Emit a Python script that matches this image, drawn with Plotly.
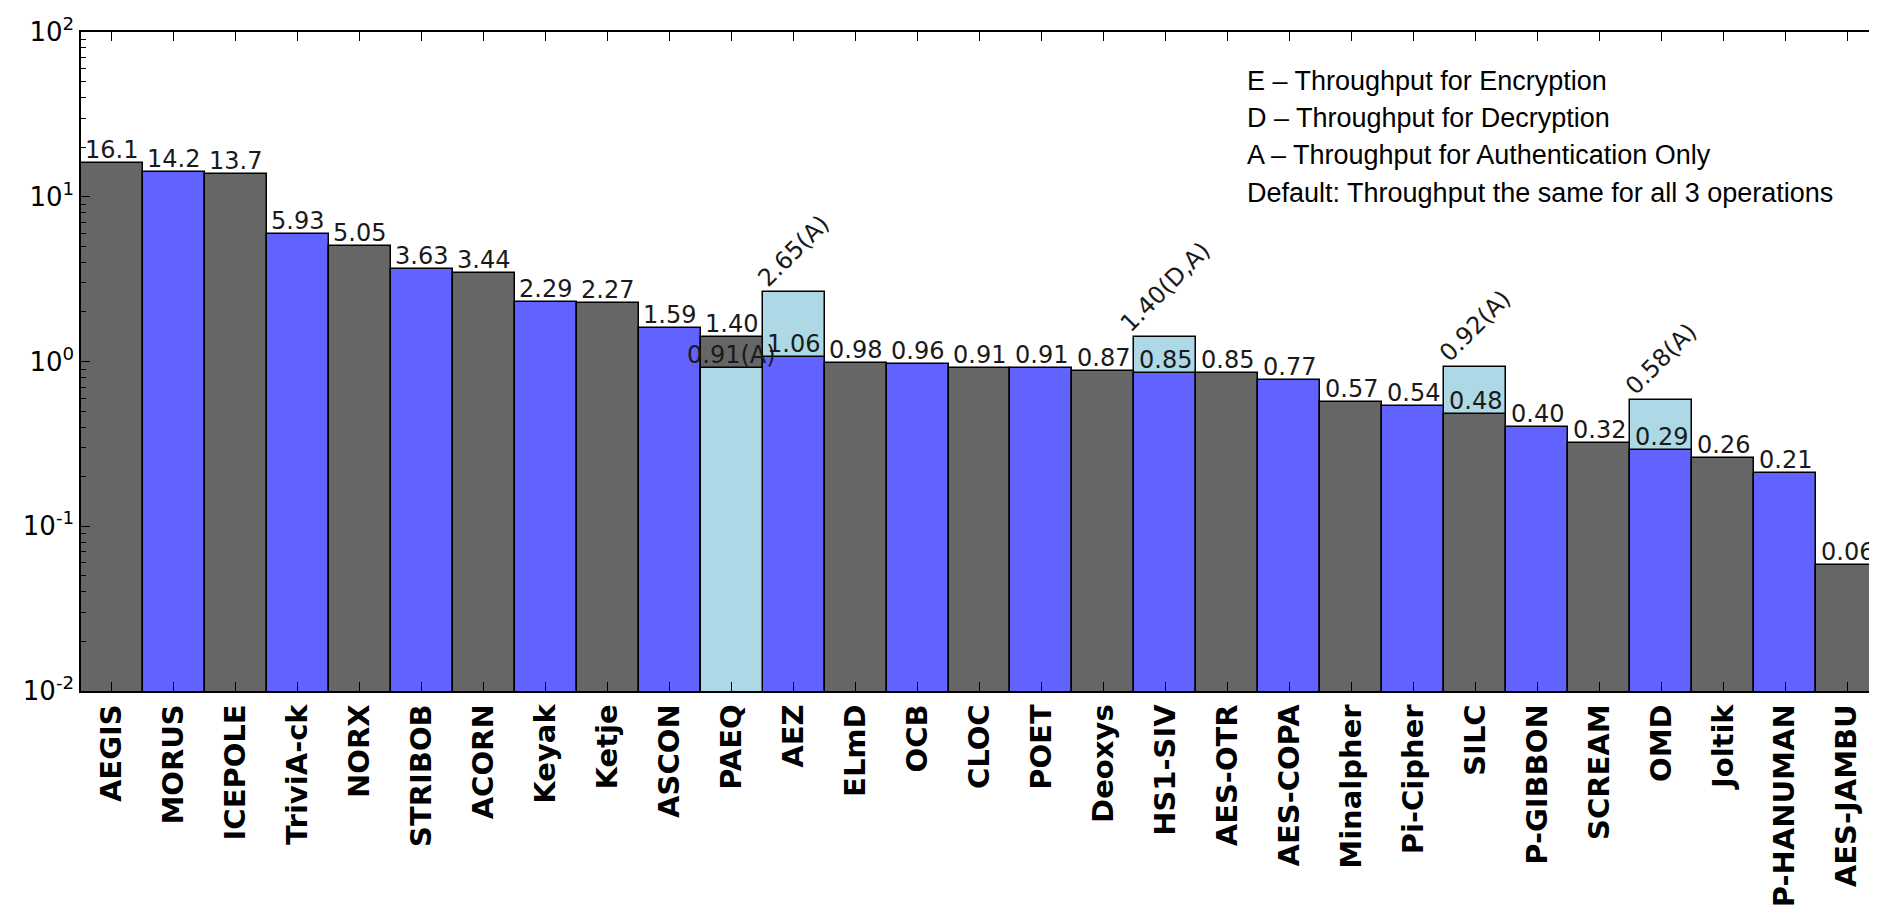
import math
import plotly.graph_objects as go

names = ["AEGIS", "MORUS", "ICEPOLE", "TriviA-ck", "NORX", "STRIBOB", "ACORN", "Keyak",
         "Ketje", "ASCON", "PAEQ", "AEZ", "ELmD", "OCB", "CLOC", "POET", "Deoxys", "HS1-SIV",
         "AES-OTR", "AES-COPA", "Minalpher", "Pi-Cipher", "SILC", "P-GIBBON", "SCREAM", "OMD",
         "Joltik", "P-HANUMAN", "AES-JAMBU"]
main_vals = [16.1, 14.2, 13.7, 5.93, 5.05, 3.63, 3.44, 2.29, 2.27, 1.59, 1.40, 1.06, 0.98,
             0.96, 0.91, 0.91, 0.87, 0.85, 0.85, 0.77, 0.57, 0.54, 0.48, 0.40, 0.32, 0.29,
             0.26, 0.21, 0.058]
main_labels = ["16.1", "14.2", "13.7", "5.93", "5.05", "3.63", "3.44", "2.29", "2.27", "1.59",
               "1.40", "1.06", "0.98", "0.96", "0.91", "0.91", "0.87", "0.85", "0.85", "0.77",
               "0.57", "0.54", "0.48", "0.40", "0.32", "0.29", "0.26", "0.21", "0.06"]

alt_names = ["PAEQ", "AEZ", "HS1-SIV", "SILC", "OMD"]
alt_vals = [0.91, 2.65, 1.40, 0.92, 0.58]
alt_labels = ["0.91(A)", "2.65(A)", "1.40(D,A)", "0.92(A)", "0.58(A)"]

legend_lines = ["E \u2013 Throughput for Encryption",
                "D \u2013 Throughput for Decryption",
                "A \u2013 Throughput for Authentication Only",
                "Default: Throughput the same for all 3 operations"]

GRAY = "#666666"
BLUE = "#6262ff"
LIGHT = "#add8e6"

main_map = dict(zip(names, main_vals))
colors = [GRAY if i % 2 == 0 else BLUE for i in range(len(names))]

back_x = [n for n, v in zip(alt_names, alt_vals) if v > main_map[n]]
back_y = [v for n, v in zip(alt_names, alt_vals) if v > main_map[n]]
front_x = [n for n, v in zip(alt_names, alt_vals) if v <= main_map[n]]
front_y = [v for n, v in zip(alt_names, alt_vals) if v <= main_map[n]]

line = dict(color="black", width=1.5)
fig = go.Figure()
fig.add_trace(go.Bar(x=back_x, y=back_y, width=1.0, marker=dict(color=LIGHT, line=line)))
fig.add_trace(go.Bar(x=names, y=main_vals, width=1.0, marker=dict(color=colors, line=line)))
fig.add_trace(go.Bar(x=front_x, y=front_y, width=1.0, marker=dict(color=LIGHT, line=line)))

lab_font = dict(family="DejaVu Sans", size=24, color="#1a1a1a")
for n, v, t in zip(names, main_vals, main_labels):
    fig.add_annotation(x=n, y=math.log10(v), yref="y", text=t, showarrow=False,
                       yanchor="bottom", xanchor="center", font=lab_font, yshift=-3)
for n, v, t in zip(alt_names, alt_vals, alt_labels):
    rotated = v > main_map[n]
    fig.add_annotation(x=n, y=math.log10(v), yref="y", text=t, showarrow=False,
                       yanchor="bottom", xanchor="center", font=lab_font, yshift=-3,
                       textangle=-45 if rotated else 0)

leg_y = [0.9256, 0.8695, 0.8134, 0.7557]
for t, yy in zip(legend_lines, leg_y):
    fig.add_annotation(x=0.6475, y=yy, xref="paper", yref="paper", text=t, showarrow=False,
                       xanchor="left", yanchor="middle",
                       font=dict(family="Liberation Sans", size=27, color="black"))

minor_vals = [m * 10 ** e for e in range(-2, 2) for m in range(2, 10)]

fig.update_layout(
    barmode="overlay",
    showlegend=False,
    width=1877, height=913,
    margin=dict(l=73, r=5, t=24, b=230),
    plot_bgcolor="white", paper_bgcolor="white",
    bargap=0,
)
fig.update_xaxes(
    type="category", categoryorder="array", categoryarray=names,
    range=[-0.5, len(names) - 0.5],
    showline=True, linecolor="black", linewidth=1.5, mirror="ticks",
    ticks="inside", ticklen=9, tickcolor="black", tickwidth=1,
    tickangle=-90, tickfont=dict(family="DejaVu Sans", size=29, color="black"),
    tickprefix="<b>", ticksuffix="</b>",
    showgrid=False,
)
fig.update_yaxes(
    type="log", range=[-2, 2],
    tickmode="array", tickvals=[0.01, 0.1, 1, 10, 100],
    ticktext=["10<sup>-2</sup>", "10<sup>-1</sup>", "10<sup>0</sup>", "10<sup>1</sup>", "10<sup>2</sup>"],
    showline=True, linecolor="black", linewidth=1.5, mirror="ticks",
    ticks="inside", ticklen=9, tickcolor="black", tickwidth=1,
    tickfont=dict(family="DejaVu Sans", size=26, color="black"),
    minor=dict(tickmode="array", tickvals=minor_vals, ticks="inside", ticklen=5,
               tickcolor="black", tickwidth=1, showgrid=False),
    showgrid=False, zeroline=False,
)

fig.write_html("out.html")
